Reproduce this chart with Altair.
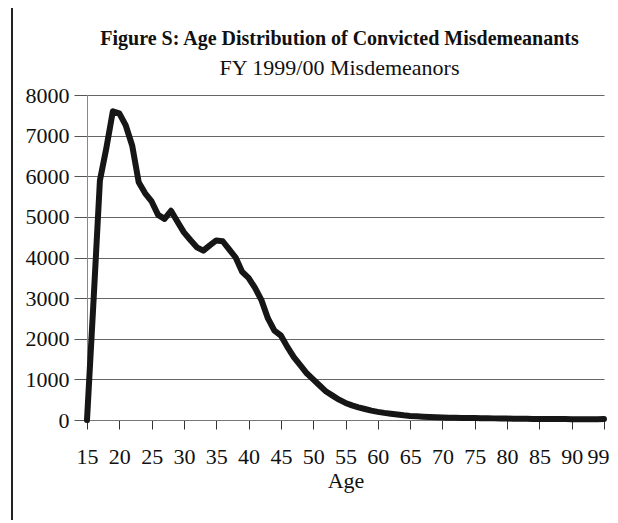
import altair as alt
import pandas as pd

# Age categories (95+ shown as 99)
ages = [str(a) for a in range(15, 95)] + ["99"]
counts = [
    0, 2900, 5900, 6700, 7600, 7550, 7250, 6750, 5850, 5580,   # 15-24
    5380, 5050, 4950, 5150, 4880, 4620, 4430, 4250, 4170, 4300, # 25-34
    4420, 4400, 4200, 4000, 3650, 3500, 3250, 2950, 2500, 2200, # 35-44
    2080, 1800, 1550, 1350, 1150, 1000, 850, 700, 600, 500,     # 45-54
    420, 360, 310, 270, 230, 200, 175, 155, 135, 115,           # 55-64
    100, 90, 80, 72, 66, 62, 58, 55, 52, 50,                    # 65-74
    48, 45, 42, 40, 38, 35, 32, 30, 28, 26,                     # 75-84
    25, 24, 23, 22, 22, 21, 21, 20, 20, 20,                     # 85-94
    25,                                                          # 99
]
x_tick_labels = ["15", "20", "25", "30", "35", "40", "45", "50", "55",
                 "60", "65", "70", "75", "80", "85", "90", "99"]
y_ticks = [0, 1000, 2000, 3000, 4000, 5000, 6000, 7000, 8000]

title_text = "Figure S:  Age Distribution of Convicted Misdemeanants"
subtitle_text = "FY 1999/00 Misdemeanors"

df = pd.DataFrame({"age": ages, "count": counts})

FONT = "Liberation Serif"

line = alt.Chart(df).mark_line(
    color="#161616", strokeWidth=6, strokeJoin="round", strokeCap="round"
).encode(
    x=alt.X(
        "age:O",
        sort=ages,
        scale=alt.Scale(type="point", padding=0),
        axis=alt.Axis(
            values=x_tick_labels,
            labelAngle=0,
            title="Age",
            grid=False,
            tickSize=9,
            tickColor="#333",
            domainColor="#777",
            labelPadding=17,
            titlePadding=3,
            labelAlign={"condition": {"test": "datum.label == '99'", "value": "right"},
                        "value": "center"},
            labelOffset={"condition": {"test": "datum.label == '99'", "value": 5},
                         "value": 0},
        ),
    ),
    y=alt.Y(
        "count:Q",
        scale=alt.Scale(domain=[0, 8000], nice=False),
        axis=alt.Axis(
            values=y_ticks,
            format="d",
            title=None,
            grid=True,
            gridColor="#666",
            gridWidth=1,
            tickSize=13,
            tickColor="#555",
            domainColor="#888",
            labelPadding=5,
        ),
    ),
)

frame_df = pd.DataFrame({"k": [0]})
left_border = alt.Chart(frame_df).mark_rule(color="#222", strokeWidth=2).encode(
    x=alt.value(-75), y=alt.value(-90), y2=alt.value(440)
)
top_border = alt.Chart(frame_df).mark_rule(color="#222", strokeWidth=2).encode(
    x=alt.value(-75), x2=alt.value(540), y=alt.value(-90)
)

chart = alt.layer(line, left_border, top_border).properties(
    width=517,
    height=325,
    autosize=alt.AutoSizeParams(type="none"),
    padding={"left": 79, "top": 87, "right": 6, "bottom": 100},
    title=alt.TitleParams(
        text=title_text,
        subtitle=subtitle_text,
        anchor="middle",
        dx=-6,
        offset=-75,
        font=FONT,
        fontSize=20,
        fontWeight="bold",
        color="#111",
        subtitleFont=FONT,
        subtitleFontSize=22,
        subtitleColor="#111",
        subtitlePadding=9,
    ),
).configure_view(
    stroke=None
).configure_axis(
    labelFont=FONT,
    labelFontSize=22,
    labelColor="#111",
    titleFont=FONT,
    titleFontSize=22,
    titleFontWeight="normal",
    titleColor="#111",
)

chart.save("out.html", embed_options={"renderer": "svg", "actions": False})
